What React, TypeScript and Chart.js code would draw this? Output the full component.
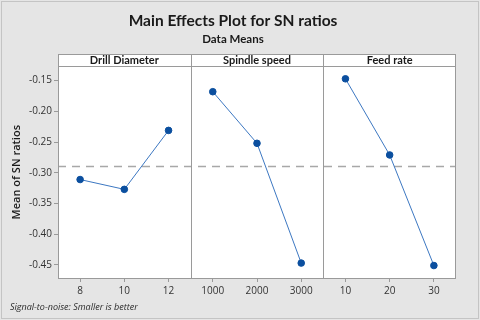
import React, { useEffect, useRef } from "react";
import { Chart, registerables } from "chart.js";

Chart.register(...registerables);

const drillLevels = ["8", "10", "12"];
const drillMeans = [-0.311, -0.327, -0.231];
const spindleLevels = ["1000", "2000", "3000"];
const spindleMeans = [-0.168, -0.252, -0.447];
const feedLevels = ["10", "20", "30"];
const feedMeans = [-0.147, -0.271, -0.451];
const panelNames = ["Drill Diameter", "Spindle speed", "Feed rate"];
const yTicks = [-0.45, -0.4, -0.35, -0.3, -0.25, -0.2, -0.15];
const yMin = -0.4713;
const yMax = -0.1268;

const FONT = "'Open Sans', 'Noto Sans', sans-serif";
const HFONT = "Lato, 'Open Sans', sans-serif";

export default function App() {
  const ref = useRef<HTMLCanvasElement | null>(null);

  useEffect(() => {
    const canvas = ref.current;
    if (!canvas) return;
    const labels = [...drillLevels, ...spindleLevels, ...feedLevels];
    const groups = [drillMeans, spindleMeans, feedMeans];
    const n = labels.length;
    const datasets = groups.map((g, gi) => {
      const data: (number | null)[] = new Array(n).fill(null);
      g.forEach((v, i) => (data[gi * 3 + i] = v));
      return {
        label: panelNames[gi],
        data,
        borderColor: "#3d78c2",
        backgroundColor: "#0b4f9f",
        pointBackgroundColor: "#0b4f9f",
        pointBorderColor: "#0b4f9f",
        pointRadius: 3.3,
        borderWidth: 1,
        spanGaps: false,
        tension: 0,
      };
    });
    const grandMean = drillMeans.reduce((a, b) => a + b, 0) / drillMeans.length;

    const panelPlugin = {
      id: "panels",
      beforeDraw(chart: any) {
        const { ctx, width, height, chartArea } = chart;
        ctx.save();
        ctx.fillStyle = "#e5e5e5";
        ctx.fillRect(0, 0, width, height);
        ctx.strokeStyle = "#c4c4c4";
        ctx.lineWidth = 1;
        ctx.strokeRect(1.5, 1.5, width - 3, height - 3);
        ctx.fillStyle = "#ffffff";
        ctx.fillRect(chartArea.left, chartArea.top - 12, chartArea.right - chartArea.left, chartArea.bottom - chartArea.top + 12);
        ctx.restore();
      },
      beforeDatasetsDraw(chart: any) {
        const { ctx, chartArea, scales } = chart;
        const y = scales.y;
        ctx.save();
        const yp = Math.round(y.getPixelForValue(grandMean)) + 0.5;
        ctx.strokeStyle = "#a8a8a8";
        ctx.lineWidth = 1.5;
        ctx.setLineDash([8, 6]);
        ctx.beginPath();
        ctx.moveTo(chartArea.left, yp);
        ctx.lineTo(chartArea.right, yp);
        ctx.stroke();
        ctx.restore();
      },
      afterDraw(chart: any) {
        const { ctx, chartArea, scales } = chart;
        const x = scales.x;
        ctx.save();
        const top = chartArea.top - 12;
        ctx.strokeStyle = "#9a9a9a";
        ctx.lineWidth = 1;
        const L = Math.round(chartArea.left) + 0.5;
        const R = Math.round(chartArea.right) - 0.5;
        const B = Math.round(chartArea.bottom) + 0.5;
        const T = Math.round(top) + 0.5;
        ctx.strokeRect(L, T, R - L, B - T);
        ctx.beginPath();
        ctx.moveTo(L, Math.round(chartArea.top) + 0.5);
        ctx.lineTo(R, Math.round(chartArea.top) + 0.5);
        const bounds = [chartArea.left];
        for (let p = 1; p < panelNames.length; p++) {
          const xp = (x.getPixelForValue(p * 3 - 1) + x.getPixelForValue(p * 3)) / 2;
          bounds.push(xp);
          const xr = Math.round(xp) + 0.5;
          ctx.moveTo(xr, T);
          ctx.lineTo(xr, B);
        }
        bounds.push(chartArea.right);
        ctx.stroke();
        ctx.fillStyle = "#1a1a1a";
        ctx.font = `bold 11px ${HFONT}`;
        ctx.textAlign = "center";
        ctx.textBaseline = "middle";
        panelNames.forEach((name, i) => {
          ctx.fillText(name, (bounds[i] + bounds[i + 1]) / 2, top + 6.5);
        });
        ctx.font = `italic 9px ${FONT}`;
        ctx.textAlign = "left";
        ctx.fillStyle = "#2a2a2a";
        ctx.fillText("Signal-to-noise: Smaller is better", 10, 307);
        ctx.restore();
      },
    };

    const chart = new Chart(canvas, {
      type: "line",
      data: { labels, datasets: datasets as any },
      options: {
        animation: false,
        responsive: false,
        layout: { padding: { top: 0, right: 24, bottom: 0, left: 10 } },
        plugins: {
          legend: { display: false },
          tooltip: { enabled: false },
          title: {
            display: true,
            text: "Main Effects Plot for SN ratios",
            color: "#1a1a1a",
            font: { family: HFONT, size: 15.5, weight: "bold" as any, lineHeight: 1.2 },
            padding: { top: 12, bottom: 0 },
          },
          subtitle: {
            display: true,
            text: "Data Means",
            color: "#1a1a1a",
            font: { family: HFONT, size: 11.5, weight: "bold" as any, lineHeight: 1.2 },
            padding: { top: 2, bottom: 20 },
          },
        },
        scales: {
          x: {
            type: "category",
            offset: true,
            grid: { drawOnChartArea: false, drawTicks: true, tickLength: 4, color: "#9a9a9a" },
            border: { display: false },
            ticks: { color: "#333333", font: { family: FONT, size: 10 }, padding: 3, autoSkip: false, maxRotation: 0 },
            afterFit(scale: any) {
              scale.height = 42;
            },
          },
          y: {
            min: yMin,
            max: yMax,
            grid: { drawOnChartArea: false, drawTicks: true, tickLength: 4, color: "#9a9a9a" },
            border: { display: false },
            ticks: {
              color: "#333333",
              font: { family: FONT, size: 10 },
              padding: 2,
              callback: (v: any) => Number(v).toFixed(2),
            },
            afterBuildTicks(scale: any) {
              scale.ticks = yTicks.map((v) => ({ value: v }));
            },
            title: {
              display: true,
              text: "Mean of SN ratios",
              color: "#1a1a1a",
              font: { family: FONT, size: 11, weight: "600" as any },
              padding: { top: 0, bottom: 4 },
            },
            afterFit(scale: any) {
              scale.width = 48;
            },
          },
        },
      },
      plugins: [panelPlugin],
    });
    return () => chart.destroy();
  }, []);

  return (
    <div style={{ position: "fixed", left: 0, top: 0, width: 480, height: 320 }}>
      <canvas ref={ref} width={480} height={320} style={{ width: 480, height: 320, display: "block" }} />
    </div>
  );
}
